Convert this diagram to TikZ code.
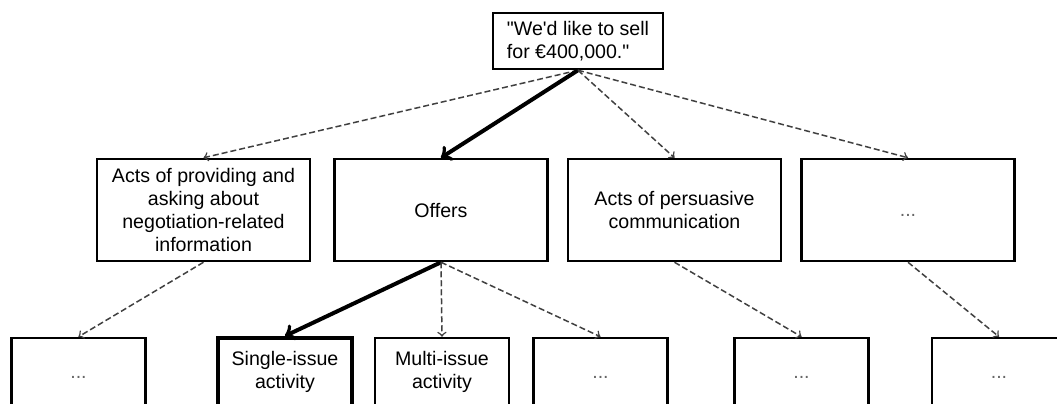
\documentclass[tikz,border=0pt]{standalone}
\usepackage{fontspec}
\setmainfont{Liberation Sans}
\usepackage{xcolor}
\usepackage{tikz}

\begin{document}
\begin{tikzpicture}[x=0.5pt,y=-0.5pt,
    every node/.style={font=\fontsize{9.8pt}{11.5pt}\selectfont},
    box/.style={draw,line width=1.25pt,fill=white,align=center,inner sep=2pt},
    mid/.style={box,minimum width=106.5pt,minimum height=51pt},
    low/.style={box,minimum width=67pt,minimum height=34pt},
    sure/.style={line width=2pt,->},
    maybe/.style={draw=black!75,line width=0.75pt,dash pattern=on 3pt off 1.5pt,->}]
    \newcommand{\more}{\textcolor{black!60}{...}\vphantom{O}}
    \useasboundingbox (0,0) rectangle (1057,403);
    \clip (0,0) rectangle (1057,403);
    \node[box,minimum width=85pt,minimum height=28pt,align=left] (1) at (578,41) {\textquotedbl We\textquotesingle d like to sell\\for €400,000.\textquotedbl};
    \node[mid] (2) at (203.5,210) {Acts of providing and\\asking about\\negotiation-related\\information};
    \node[mid] (3) at (441,210) {Offers};
    \node[mid] (4) at (674.5,210) {Acts of persuasive\\communication};
    \node[mid] (5) at (908,210) {\more};
    \node[low] (6) at (78.5,372) {\more};
    \node[low,line width=2pt] (7) at (285,372) {Single-issue\\activity};
    \node[low] (8) at (442,372) {Multi-issue\\activity};
    \node[low] (9) at (600.5,372) {\more};
    \node[low] (10) at (801.5,372) {\more};
    \node[low] (11) at (999,372) {\more};
    \draw[maybe] (1.south) to (2.north);
    \draw[sure] (1.south) to (3.north);
    \draw[maybe] (1.south) to (4.north);
    \draw[maybe] (1.south) to (5.north);
    \draw[maybe] (2.south) to (6.north);
    \draw[sure] (3.south) to (7.north);
    \draw[maybe] (3.south) to (8.north);
    \draw[maybe] (3.south) to (9.north);
    \draw[maybe] (4.south) to (10.north);
    \draw[maybe] (5.south) to (11.north);
\end{tikzpicture}
\end{document}
